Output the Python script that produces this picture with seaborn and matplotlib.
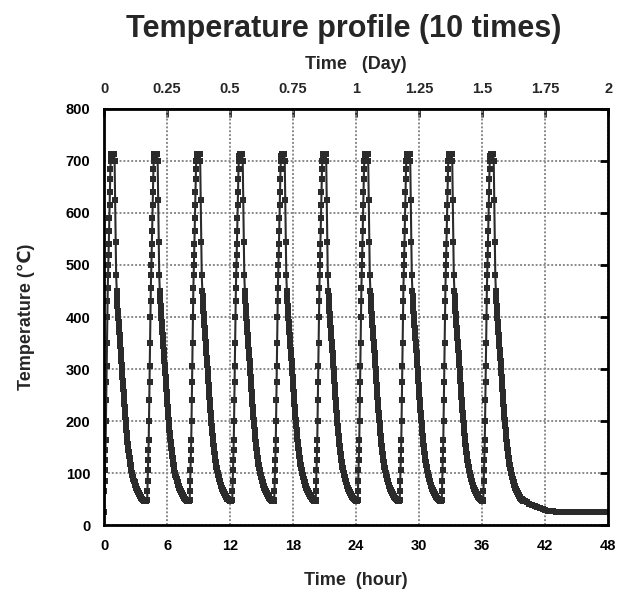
import matplotlib
matplotlib.use("Agg")
import matplotlib.pyplot as plt
import numpy as np
import pandas as pd
import seaborn as sns

cycle_rise_hour = [0.000, 0.025, 0.050, 0.075, 0.100, 0.125, 0.150, 0.175, 0.200,
                   0.225, 0.250, 0.275, 0.300, 0.325, 0.350, 0.375, 0.400, 0.425,
                   0.450, 0.475, 0.500, 0.525, 0.550, 0.575, 0.600, 0.625, 0.650]
cycle_rise_temp = [48, 65, 85, 105, 125, 145, 163, 200, 240,
                   275, 305, 350, 400, 430, 455, 480, 500, 520,
                   540, 565, 590, 615, 640, 665, 685, 700, 710]
cycle_hold_hour = [0.70, 0.75, 0.80, 0.85, 0.90, 0.95]
cycle_hold_temp = [713, 714, 714, 714, 714, 713]
cycle_fall_hour = [1.00, 1.05, 1.10, 1.15,
                   1.200, 1.225, 1.250, 1.275, 1.300, 1.325, 1.350, 1.375, 1.400, 1.425,
                   1.450, 1.475, 1.500, 1.525, 1.550, 1.575, 1.600, 1.625, 1.650, 1.675,
                   1.700, 1.725, 1.750, 1.775, 1.800, 1.825, 1.850, 1.875, 1.900, 1.925,
                   1.950, 1.975, 2.000, 2.025, 2.050, 2.075, 2.100, 2.125, 2.150, 2.175,
                   2.200, 2.225, 2.250, 2.275, 2.300, 2.325, 2.350, 2.375, 2.400, 2.425,
                   2.450, 2.475, 2.500, 2.525, 2.550, 2.575, 2.600,
                   2.65, 2.70, 2.75, 2.80, 2.85, 2.90, 2.95,
                   3.00, 3.05, 3.10, 3.15, 3.20, 3.25, 3.30, 3.35, 3.40, 3.45,
                   3.50, 3.55, 3.60, 3.65, 3.70, 3.75, 3.80, 3.85, 3.90, 3.95]
cycle_fall_temp = [700, 625, 545, 480,
                   450, 440, 430, 421, 412, 405, 398, 391, 385, 378,
                   372, 366, 360, 352, 345, 337, 330, 322, 315, 307,
                   300, 292, 285, 277, 270, 262, 255, 247, 240, 233,
                   227, 221, 215, 208, 202, 196, 190, 183, 177, 171,
                   165, 160, 156, 152, 148, 144, 140, 136, 133, 129,
                   125, 121, 118, 115, 112, 109, 106,
                   101, 97, 93, 89, 85, 82, 78,
                   75, 72, 70, 67, 65, 63, 61, 59, 57, 55,
                   54, 52, 51, 50, 49, 48, 47, 47, 46, 46]

# start (trough) time of each of the 10 cycles, hours
cycle_start = [0.0, 4.1, 8.15, 12.2, 16.2, 20.15, 24.15, 28.15, 32.15, 36.1]
initial_temp = 25

# final cool-down to room temperature after the last cycle
tail_hour = [40.25, 40.5, 40.75, 41.0, 41.25, 41.5, 41.75, 42.0, 42.25, 42.5,
             42.75, 43.0, 43.25, 43.5, 43.75, 44.0, 44.25, 44.5, 44.75, 45.0,
             45.25, 45.5, 45.75, 46.0, 46.25, 46.5, 46.75, 47.0, 47.25, 47.5,
             47.75, 48.0]
tail_temp = [44, 41, 38, 36, 34, 32, 30, 29, 28, 27,
             27, 26, 26, 26, 26, 26, 26, 26, 26, 26,
             26, 26, 26, 26, 26, 26, 26, 26, 26, 26,
             26, 26]

day_ticks = [0, 0.25, 0.5, 0.75, 1, 1.25, 1.5, 1.75, 2]
day_labels = ["0", "0.25", "0.5", "0.75", "1", "1.25", "1.5", "1.75", "2"]

rel_hour = np.array(cycle_rise_hour + cycle_hold_hour + cycle_fall_hour)
rel_temp = np.array(cycle_rise_temp + cycle_hold_temp + cycle_fall_temp, dtype=float)
hours, temps = [], []
for i, start in enumerate(cycle_start):
    t = rel_temp.copy()
    if i == 0:
        t[0] = initial_temp
    hours.extend(start + rel_hour)
    temps.extend(t)
hours.extend(tail_hour)
temps.extend(tail_temp)
df = pd.DataFrame({"hour": hours, "temp": temps})

sns.set_theme(style="white")
plt.rcParams["font.family"] = ["Liberation Sans", "DejaVu Sans"]
plt.rcParams["font.weight"] = "bold"

fig, ax = plt.subplots(figsize=(6.27, 5.92), dpi=100)
fig.subplots_adjust(left=0.166, right=0.970, bottom=0.113, top=0.816)

sns.lineplot(data=df, x="hour", y="temp", estimator=None, sort=False, ax=ax,
             color="#2b2b2b", linewidth=1.5, marker="s", markersize=3.8,
             markeredgewidth=0, markerfacecolor="#2b2b2b")

ax.set_xlim(0, 48)
ax.set_ylim(0, 800)
ax.set_xticks(range(0, 49, 6))
ax.set_yticks(range(0, 801, 100))
ax.grid(True, linestyle=(0, (1, 1)), color="#8a8a8a", linewidth=1.4)
ax.set_axisbelow(True)
for s in ax.spines.values():
    s.set_color("black")
    s.set_linewidth(2)
ax.tick_params(axis="both", direction="in", length=6, width=2, colors="black",
               labelsize=10.5, top=False, right=True, pad=10)
for lab in ax.get_xticklabels() + ax.get_yticklabels():
    lab.set_fontweight("bold")

ax.set_xlabel("Time  (hour)", fontsize=13, fontweight="bold", labelpad=14)
ax.set_ylabel("Temperature (\u2103)", fontsize=13, fontweight="bold", labelpad=22)

top = ax.secondary_xaxis("top", functions=(lambda h: h / 24, lambda d: d * 24))
top.set_xticks(day_ticks)
top.set_xticklabels(day_labels)
top.tick_params(direction="in", length=6, width=2, labelsize=10.5, pad=9)
for lab in top.get_xticklabels():
    lab.set_fontweight("bold")
top.set_xlabel("Time   (Day)", fontsize=13, fontweight="bold", labelpad=10)

fig.text(0.548, 0.951, "Temperature profile (10 times)", ha="center", va="center",
         fontsize=22, fontweight="bold")

fig.savefig("out.png", dpi=100)
